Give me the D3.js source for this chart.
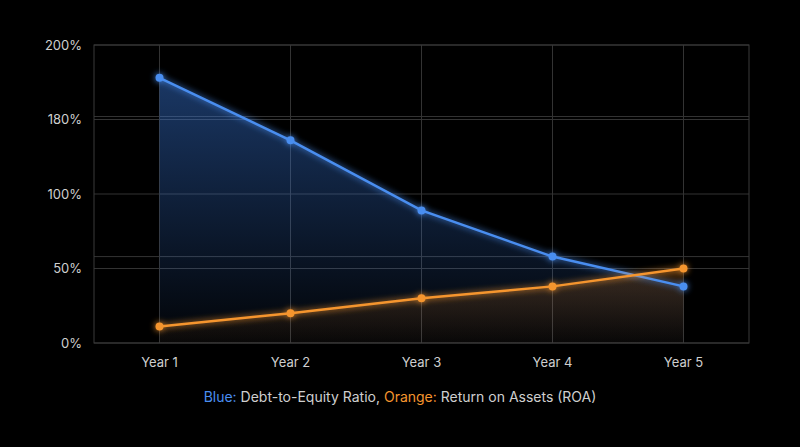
<!DOCTYPE html><html><head><meta charset="utf-8">
<script src="https://cdn.jsdelivr.net/npm/d3@7"></script>
<style>body{margin:0;background:#000;}svg{display:block;font-family:Inter,"Noto Sans",sans-serif;}</style>
</head><body><svg id="c" width="800" height="447"></svg>
<script>
const categories=["Year 1","Year 2","Year 3","Year 4","Year 5"];
const debtToEquity=[178,136,89,58,38];
const roa=[11,20,30,38,50];
const yTickValues=[0,50,100,150,200];
const yTickLabels=["0%","50%","100%","180%","200%"];
const extraGrid=[58,152];
const svg=d3.select("#c");
const L=94,R=749,T=45,B=343;
const x=d3.scalePoint().domain(categories).range([L,R]).padding(0.5);
const y=d3.scaleLinear().domain([0,200]).range([B,T]);
const defs=svg.append("defs");
function grad(id,c,o){const g=defs.append("linearGradient").attr("id",id).attr("x1",0).attr("x2",0).attr("y1",0).attr("y2",1);
g.append("stop").attr("offset","0%").attr("stop-color",c).attr("stop-opacity",o);
g.append("stop").attr("offset","100%").attr("stop-color",c).attr("stop-opacity",0.03);}
grad("gb","#3a7be0",0.45);
const go=defs.append("linearGradient").attr("id","go").attr("gradientUnits","userSpaceOnUse").attr("x1",0).attr("x2",0).attr("y1",y(50)).attr("y2",B);
go.append("stop").attr("offset","0%").attr("stop-color","#f08a24").attr("stop-opacity",0.22);
go.append("stop").attr("offset","100%").attr("stop-color","#f08a24").attr("stop-opacity",0.03);
const f=defs.append("filter").attr("id","glow").attr("x","-20%").attr("y","-20%").attr("width","140%").attr("height","140%");
f.append("feGaussianBlur").attr("stdDeviation",3).attr("result","b");
const m=f.append("feMerge");m.append("feMergeNode").attr("in","b");m.append("feMergeNode").attr("in","SourceGraphic");
const g=svg.append("g");
g.selectAll(".hg").data(yTickValues.concat(extraGrid)).join("line").attr("x1",L).attr("x2",R).attr("y1",d=>y(d)).attr("y2",d=>y(d)).attr("stroke","#333").attr("stroke-width",1);
g.selectAll(".vg").data(categories).join("line").attr("x1",d=>x(d)).attr("x2",d=>x(d)).attr("y1",T).attr("y2",B).attr("stroke","#333");
g.append("rect").attr("x",L).attr("y",T).attr("width",R-L).attr("height",B-T).attr("fill","none").attr("stroke","#3a3a3a");
const area=d3.area().x((d,i)=>x(categories[i])).y0(B).y1(d=>y(d));
const line=d3.line().x((d,i)=>x(categories[i])).y(d=>y(d));
g.append("path").attr("d",area(debtToEquity)).attr("fill","url(#gb)");
g.append("path").attr("d",area(roa)).attr("fill","url(#go)");
[[debtToEquity,"#4a8ef0"],[roa,"#f5952e"]].forEach(([d,c])=>{
 const s=g.append("g").attr("filter","url(#glow)");
 s.append("path").attr("d",line(d)).attr("fill","none").attr("stroke",c).attr("stroke-width",2.5);
 s.selectAll("circle").data(d).join("circle").attr("cx",(v,i)=>x(categories[i])).attr("cy",v=>y(v)).attr("r",4).attr("fill",c);
});
svg.selectAll(".yl").data(yTickValues).join("text").attr("x",82).attr("y",d=>y(d)).attr("dy","0.35em").attr("text-anchor","end").attr("fill","#cfcfcf").attr("font-size",13).text((d,i)=>yTickLabels[i]);
svg.selectAll(".xl").data(categories).join("text").attr("x",d=>x(d)).attr("y",367).attr("text-anchor","middle").attr("fill","#cfcfcf").attr("font-size",13).text(d=>d);
const t=svg.append("text").attr("x",400).attr("y",402).attr("text-anchor","middle").attr("font-size",14).attr("fill","#cfcfcf");
t.append("tspan").attr("fill","#4a8ef0").text("Blue:");
t.append("tspan").text(" Debt-to-Equity Ratio, ");
t.append("tspan").attr("fill","#f5952e").text("Orange:");
t.append("tspan").text(" Return on Assets (ROA)");
</script></body></html>
